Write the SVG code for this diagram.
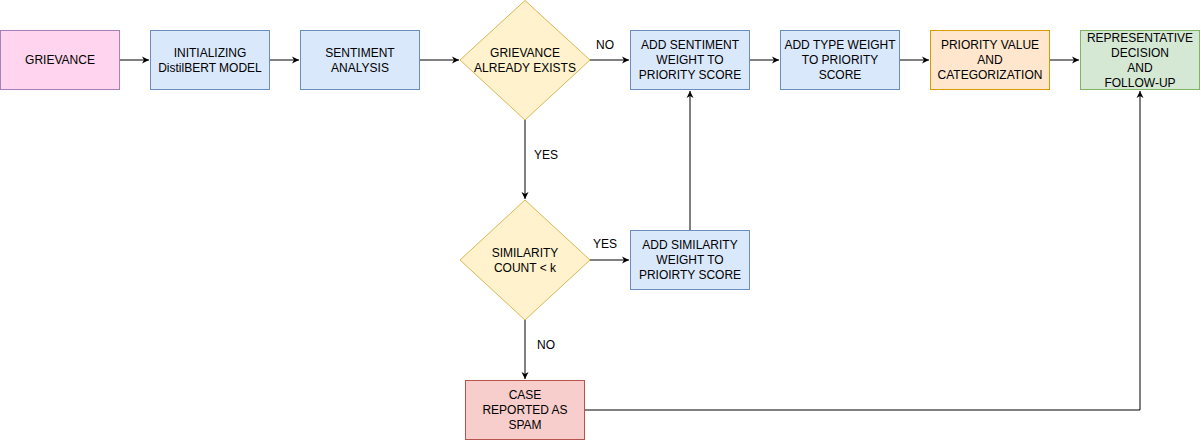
<svg xmlns="http://www.w3.org/2000/svg" width="1201" height="441" viewBox="0 0 1201 441">
<style>
text{font-family:"Liberation Sans",Arial,sans-serif;font-size:12px;fill:#000;text-anchor:middle}
.b{fill:#dae8fc;stroke:#6c8ebf}
.y{fill:#fff2cc;stroke:#d6b656}
.c line,.c path{stroke:#000;fill:none;marker-end:url(#a)}
</style>
<defs><marker id="a" markerWidth="8" markerHeight="8" refX="7" refY="4" orient="auto" markerUnits="userSpaceOnUse"><path d="M0,0.5 L7,4 L0,7.5 L2,4 Z" fill="#000"/></marker></defs>
<rect width="1201" height="441" fill="#fff"/>
<g class="c" id="connectors">
<line x1="120" y1="60" x2="149" y2="60"/>
<line x1="270" y1="60" x2="299" y2="60"/>
<line x1="420" y1="60" x2="459" y2="60"/>
<line x1="590" y1="60" x2="629" y2="60"/>
<line x1="750" y1="60" x2="779" y2="60"/>
<line x1="900" y1="60" x2="929" y2="60"/>
<line x1="1050" y1="60" x2="1079" y2="60"/>
<line x1="525" y1="120" x2="525" y2="199"/>
<line x1="590" y1="260" x2="629" y2="260"/>
<line x1="690" y1="230" x2="690" y2="91"/>
<line x1="525" y1="320" x2="525" y2="379"/>
<path d="M585,410 H1140 V91"/>
</g>
<g id="lbls">
<text x="605" y="49">NO</text>
<text x="546" y="159">YES</text>
<text x="605" y="248">YES</text>
<text x="546" y="349">NO</text>
</g>
<g id="n1"><rect x="0.5" y="30.5" width="119" height="59" fill="#ffd4ee" stroke="#a680b8"/><text x="60" y="64">GRIEVANCE</text></g>
<g id="n2"><rect class="b" x="150.5" y="30.5" width="119" height="59"/><text x="210" y="57">INITIALIZING</text><text x="210" y="72">DistilBERT MODEL</text></g>
<g id="n3"><rect class="b" x="300.5" y="30.5" width="119" height="59"/><text x="360" y="57">SENTIMENT</text><text x="360" y="72">ANALYSIS</text></g>
<g id="n4"><path class="y" d="M525,0.5 L590,60 L525,120 L460,60 Z"/><text x="525" y="57">GRIEVANCE</text><text x="525" y="72">ALREADY EXISTS</text></g>
<g id="n5"><rect class="b" x="630.5" y="30.5" width="119" height="59"/><text x="690" y="49">ADD SENTIMENT</text><text x="690" y="64">WEIGHT TO</text><text x="690" y="79">PRIORITY SCORE</text></g>
<g id="n6"><rect class="b" x="780.5" y="30.5" width="119" height="59"/><text x="840" y="49">ADD TYPE WEIGHT</text><text x="840" y="64">TO PRIORITY</text><text x="840" y="79">SCORE</text></g>
<g id="n7"><rect x="930.5" y="30.5" width="119" height="59" fill="#ffe6cc" stroke="#d79b00"/><text x="990" y="49">PRIORITY VALUE</text><text x="990" y="64">AND</text><text x="990" y="79">CATEGORIZATION</text></g>
<g id="n8"><rect x="1080.5" y="30.5" width="119" height="59" fill="#d5e8d4" stroke="#82b366"/><text x="1140" y="42">REPRESENTATIVE</text><text x="1140" y="57">DECISION</text><text x="1140" y="72">AND</text><text x="1140" y="87">FOLLOW-UP</text></g>
<g id="n9"><path class="y" d="M525,200 L590,260 L525,320 L460,260 Z"/><text x="525" y="257">SIMILARITY</text><text x="525" y="272">COUNT &lt; k</text></g>
<g id="n10"><rect class="b" x="630.5" y="230.5" width="119" height="59"/><text x="690" y="249">ADD SIMILARITY</text><text x="690" y="264">WEIGHT TO</text><text x="690" y="279">PRIOIRTY SCORE</text></g>
<g id="n11"><rect x="465.5" y="380.5" width="119" height="59" fill="#f8cecc" stroke="#b85450"/><text x="525" y="399">CASE</text><text x="525" y="414">REPORTED AS</text><text x="525" y="429">SPAM</text></g>
</svg>
